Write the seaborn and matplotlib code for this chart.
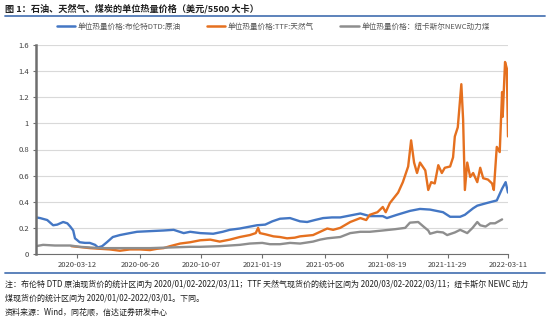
import matplotlib
matplotlib.use("Agg")
import matplotlib.pyplot as plt
from matplotlib.lines import Line2D
import numpy as np
import pandas as pd
import seaborn as sns

# ---------------- data ----------------
brent_dates = ["2020-01-02", "2020-01-09", "2020-01-21", "2020-01-31", "2020-02-07", "2020-02-17",
               "2020-02-24", "2020-02-29", "2020-03-05", "2020-03-08", "2020-03-16", "2020-03-25",
               "2020-04-02", "2020-04-11", "2020-04-16", "2020-04-23", "2020-05-01", "2020-05-11",
               "2020-05-23", "2020-06-09", "2020-06-21", "2020-07-13", "2020-08-05", "2020-08-22",
               "2020-09-08", "2020-09-19", "2020-10-06", "2020-10-28", "2020-11-13", "2020-11-25",
               "2020-12-12", "2021-01-10", "2021-01-24", "2021-02-05", "2021-02-18", "2021-03-07",
               "2021-03-24", "2021-04-05", "2021-04-18", "2021-05-02", "2021-05-17", "2021-05-31",
               "2021-06-17", "2021-07-04", "2021-07-20", "2021-08-11", "2021-08-18", "2021-09-04",
               "2021-09-26", "2021-10-13", "2021-10-30", "2021-11-21", "2021-12-03", "2021-12-20",
               "2021-12-28", "2022-01-11", "2022-01-18", "2022-02-03", "2022-02-20", "2022-03-01",
               "2022-03-07", "2022-03-11"]
brent_values = [0.28, 0.275, 0.26, 0.22, 0.225, 0.245,
                0.235, 0.21, 0.18, 0.12, 0.09, 0.085,
                0.085, 0.07, 0.05, 0.06, 0.09, 0.13,
                0.145, 0.16, 0.17, 0.175, 0.18, 0.185,
                0.16, 0.17, 0.16, 0.155, 0.17, 0.185,
                0.195, 0.22, 0.225, 0.25, 0.27, 0.275,
                0.25, 0.245, 0.26, 0.275, 0.28, 0.28,
                0.295, 0.31, 0.29, 0.29, 0.275, 0.30,
                0.33, 0.345, 0.34, 0.32, 0.285, 0.285,
                0.30, 0.35, 0.37, 0.39, 0.41, 0.50,
                0.55, 0.47]

ttf_dates = ["2020-03-02", "2020-03-13", "2020-04-02", "2020-04-19", "2020-05-06", "2020-05-23",
             "2020-06-09", "2020-06-26", "2020-07-13", "2020-07-25", "2020-08-05", "2020-08-16",
             "2020-09-02", "2020-09-19", "2020-10-06", "2020-10-23", "2020-11-08", "2020-11-25",
             "2020-12-12", "2020-12-29", "2021-01-08", "2021-01-12", "2021-01-15", "2021-01-25",
             "2021-02-07", "2021-02-18", "2021-03-02", "2021-03-15", "2021-03-24", "2021-04-15",
             "2021-04-27", "2021-05-09", "2021-05-19", "2021-05-31", "2021-06-17", "2021-07-04",
             "2021-07-14", "2021-07-20", "2021-08-02", "2021-08-11", "2021-08-16", "2021-08-23",
             "2021-09-06", "2021-09-14", "2021-09-23", "2021-09-28", "2021-10-03", "2021-10-08",
             "2021-10-13", "2021-10-22", "2021-10-27", "2021-11-01", "2021-11-07", "2021-11-13",
             "2021-11-19", "2021-11-24", "2021-12-03", "2021-12-08", "2021-12-11", "2021-12-16",
             "2021-12-22", "2021-12-25", "2021-12-28", "2022-01-01", "2022-01-06", "2022-01-11",
             "2022-01-18", "2022-01-23", "2022-01-28", "2022-02-05", "2022-02-12", "2022-02-15",
             "2022-02-20", "2022-02-25", "2022-03-01", "2022-03-02", "2022-03-06", "2022-03-09",
             "2022-03-11"]
ttf_values = [0.06, 0.055, 0.045, 0.04, 0.035, 0.025,
              0.035, 0.035, 0.03, 0.04, 0.045, 0.06,
              0.08, 0.09, 0.105, 0.11, 0.095, 0.11,
              0.13, 0.145, 0.16, 0.20, 0.16, 0.15,
              0.135, 0.13, 0.12, 0.125, 0.135, 0.145,
              0.17, 0.195, 0.185, 0.20, 0.245, 0.275,
              0.26, 0.30, 0.32, 0.36, 0.32, 0.39,
              0.47, 0.55, 0.67, 0.87, 0.70, 0.62,
              0.70, 0.64, 0.49, 0.55, 0.54, 0.68,
              0.62, 0.66, 0.67, 0.74, 0.90, 0.97,
              1.30, 1.03, 0.49, 0.70, 0.59, 0.62,
              0.55, 0.66, 0.58, 0.57, 0.54, 0.49,
              0.82, 0.78, 1.24, 1.05, 1.47, 1.42,
              0.90]

coal_dates = ["2020-01-02", "2020-01-14", "2020-02-03", "2020-02-29", "2020-03-16", "2020-04-19",
              "2020-05-23", "2020-06-23", "2020-07-13", "2020-08-16", "2020-09-19", "2020-10-06",
              "2020-11-08", "2020-12-12", "2020-12-29", "2021-01-19", "2021-02-01", "2021-02-18",
              "2021-03-07", "2021-03-24", "2021-04-15", "2021-04-27", "2021-05-09", "2021-05-31",
              "2021-06-17", "2021-07-04", "2021-07-20", "2021-08-11", "2021-09-01", "2021-09-18",
              "2021-09-26", "2021-10-10", "2021-10-19", "2021-10-27", "2021-10-30", "2021-11-11",
              "2021-11-21", "2021-11-28", "2021-12-11", "2021-12-20", "2022-01-01", "2022-01-10",
              "2022-01-18", "2022-01-23", "2022-02-01", "2022-02-09", "2022-02-17", "2022-03-01"]
coal_values = [0.06, 0.07, 0.065, 0.065, 0.055, 0.045,
               0.045, 0.045, 0.045, 0.05, 0.055, 0.055,
               0.06, 0.07, 0.08, 0.085, 0.075, 0.075,
               0.085, 0.08, 0.095, 0.11, 0.12, 0.13,
               0.16, 0.17, 0.17, 0.18, 0.19, 0.20,
               0.24, 0.245, 0.21, 0.18, 0.155, 0.17,
               0.165, 0.145, 0.165, 0.185, 0.16, 0.20,
               0.245, 0.22, 0.21, 0.235, 0.235, 0.265]

series_names = ["单位热量价格:布伦特DTD:原油", "单位热量价格:TTF:天然气", "单位热量价格：纽卡斯尔NEWC动力煤"]
series_colors = ["#4477C4", "#E5701F", "#8E8E8E"]

xtick_labels = ["2020-03-12", "2020-06-26", "2020-10-07", "2021-01-19",
                "2021-05-06", "2021-08-19", "2021-11-29", "2022-03-11"]
ytick_values = [0, 0.2, 0.4, 0.6, 0.8, 1.0, 1.2, 1.4, 1.6]
ytick_labels = ["0", "0.2", "0.4", "0.6", "0.8", "1", "1.2", "1.4", "1.6"]

title_text = "图 1：石油、天然气、煤炭的单位热量价格（美元/5500 大卡）"
note_lines = ["注：布伦特 DTD 原油现货价的统计区间为 2020/01/02-2022/03/11；TTF 天然气现货价的统计区间为 2020/03/02-2022/03/11；纽卡斯尔 NEWC 动力",
              "煤现货价的统计区间为 2020/01/02-2022/03/01。下同。",
              "资料来源：Wind，同花顺，信达证券研发中心"]

# ---------------- build table ----------------
frames = []
for name, d, v in zip(series_names, [brent_dates, ttf_dates, coal_dates],
                      [brent_values, ttf_values, coal_values]):
    frames.append(pd.DataFrame({"date": pd.to_datetime(d), "value": v, "series": name}))
df = pd.concat(frames, ignore_index=True)

# ---------------- style ----------------
sns.set_theme(style="white")
plt.rcParams["font.family"] = ["Noto Sans CJK SC", "DejaVu Sans"]
plt.rcParams["axes.unicode_minus"] = False

fig = plt.figure(figsize=(5.5, 3.32), dpi=100)
W, H = 550, 332
ax = fig.add_axes([36 / W, 1 - 254 / H, (508 - 36) / W, (254 - 45) / H])

sns.lineplot(data=df, x="date", y="value", hue="series", hue_order=series_names,
             palette=series_colors, linewidth=1.7, ax=ax, legend=False, estimator=None)

ax.set_ylim(0, 1.6)
ax.set_xlim(pd.Timestamp("2020-01-02"), pd.Timestamp("2022-03-11"))
ax.set_yticks(ytick_values)
ax.set_yticklabels(ytick_labels)
ax.set_xticks(pd.to_datetime(xtick_labels))
ax.set_xticklabels(xtick_labels)
ax.set_xlabel("")
ax.set_ylabel("")
ax.grid(axis="y", color="#D9D9D9", linewidth=0.8)
ax.grid(axis="x", visible=False)
ax.set_axisbelow(True)
for s in ["top", "right"]:
    ax.spines[s].set_visible(False)
ax.spines["left"].set_color("#6E6E6E")
ax.spines["left"].set_linewidth(1.8)
ax.spines["bottom"].set_color("#6E6E6E")
ax.spines["bottom"].set_linewidth(0.8)
ax.tick_params(axis="x", length=3, width=0.8, color="#6E6E6E", labelsize=5.5,
               labelcolor="#404040", pad=2, bottom=True)
ax.tick_params(axis="y", length=2, width=0.8, color="#6E6E6E", labelsize=5.5,
               labelcolor="#404040", pad=3, left=True)

handles = [Line2D([0], [0], color=c, lw=1.8) for c in series_colors]
fig.legend(handles, series_names, loc="center", bbox_to_anchor=(273 / W, 1 - 27 / H),
           ncol=3, frameon=False, fontsize=5.5, handlelength=2.4, handletextpad=0.3,
           columnspacing=3.5, labelcolor="#555555")

# title and rules
fig.text(5 / W, 1 - 9 / H, title_text, fontsize=6.6, fontweight="bold", color="#1F1F1F",
         va="center", ha="left")
fig.add_artist(Line2D([5 / W, 545 / W], [1 - 16 / H, 1 - 16 / H], color="#4F78B5", lw=1.3))
fig.add_artist(Line2D([5 / W, 545 / W], [1 - 273 / H, 1 - 273 / H], color="#4F78B5", lw=1.3))

for i, line in enumerate(note_lines):
    fig.text(5 / W, 1 - (284 + 14 * i) / H, line, fontsize=5.75, color="#1F1F1F",
             va="center", ha="left")

fig.savefig("out.png", dpi=100)
